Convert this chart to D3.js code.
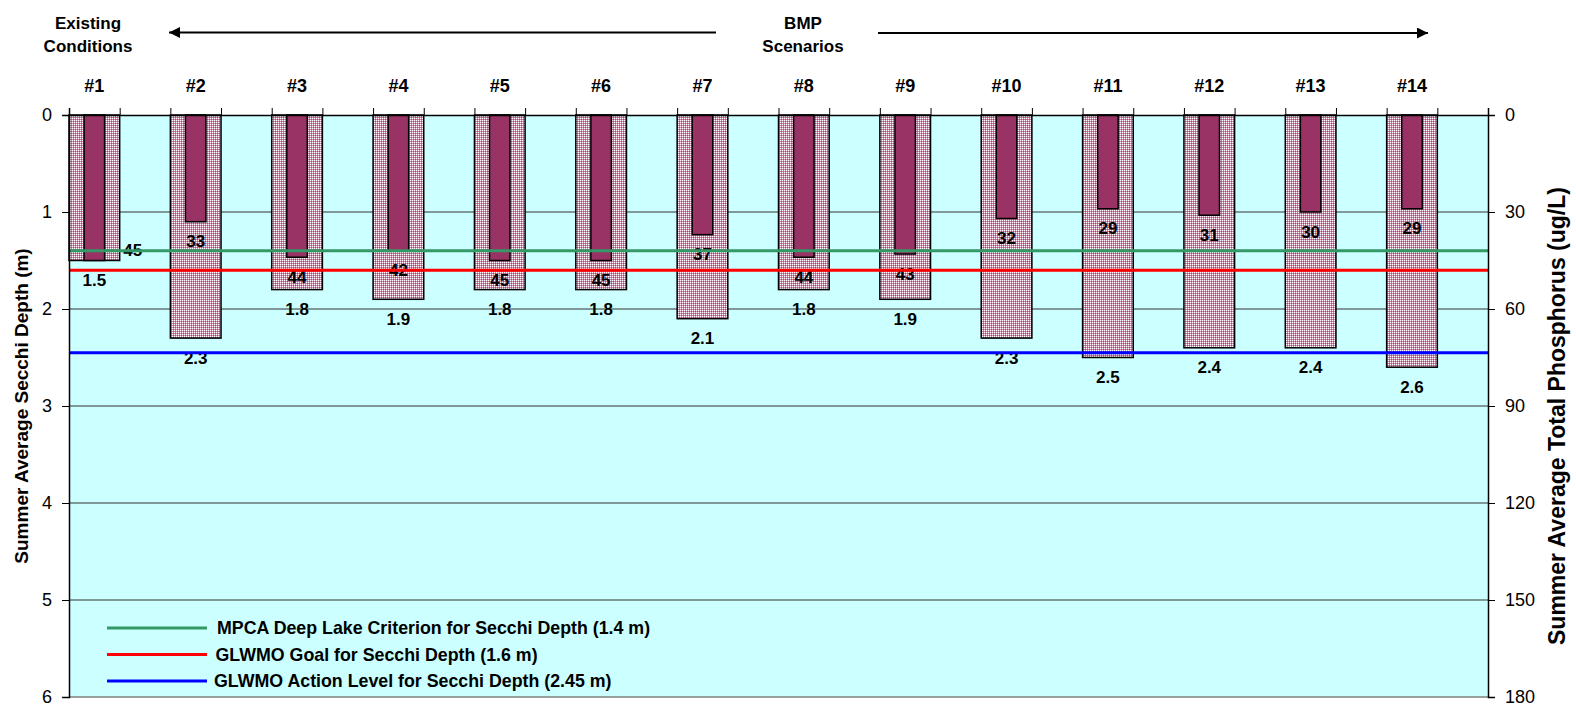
<!DOCTYPE html>
<html>
<head>
<meta charset="utf-8">
<script src="https://cdn.jsdelivr.net/npm/d3@7"></script>
<style>
  html, body { margin: 0; padding: 0; background: #ffffff; }
  svg { display: block; font-family: "Liberation Sans", Arial, sans-serif; }
</style>
</head>
<body>
<svg id="chart" width="1576" height="706"></svg>
<script>
// Scenario results: summer Secchi depth (m) and total phosphorus (ug/L)
const scenarios = ["#1", "#2", "#3", "#4", "#5", "#6", "#7", "#8", "#9", "#10", "#11", "#12", "#13", "#14"];
const secchiDepth = [1.5, 2.3, 1.8, 1.9, 1.8, 1.8, 2.1, 1.8, 1.9, 2.3, 2.5, 2.4, 2.4, 2.6];
const totalPhosphorus = [45, 33, 44, 42, 45, 45, 37, 44, 43, 32, 29, 31, 30, 29];

// Axis ticks
const secchiTicks = [0, 1, 2, 3, 4, 5, 6];
const phosphorusTicks = [0, 30, 60, 90, 120, 150, 180];

// Secchi depth reference levels
const referenceLabels = [
  "MPCA Deep Lake Criterion for Secchi Depth (1.4 m)",
  "GLWMO Goal for Secchi Depth (1.6 m)",
  "GLWMO Action Level for Secchi Depth (2.45 m)"
];
const referenceValues = [1.4, 1.6, 2.45];

// Header texts
const existingLabel = ["Existing", "Conditions"];
const scenarioLabel = ["BMP", "Scenarios"];

// ---- layout & style ----
const plot = { left: 69, right: 1488, top: 115, bottom: 697 };
const referenceColors = ["#339966", "#ff0000", "#0000ff"];
const plum = "#993366";

const svg = d3.select("#chart");

const defs = svg.append("defs");
const pat = defs.append("pattern")
  .attr("id", "dots").attr("width", 2).attr("height", 2)
  .attr("patternUnits", "userSpaceOnUse");
pat.append("rect").attr("width", 2).attr("height", 2).attr("fill", "#cd8aad");
pat.append("rect").attr("x", 0).attr("y", 0).attr("width", 1).attr("height", 1).attr("fill", "#ffffff");
pat.append("rect").attr("x", 1).attr("y", 1).attr("width", 1).attr("height", 1).attr("fill", "#a34d79");

defs.append("marker").attr("id", "arrowEnd")
  .attr("viewBox", "0 0 10 10").attr("refX", 10).attr("refY", 5)
  .attr("markerWidth", 13).attr("markerHeight", 11).attr("markerUnits", "userSpaceOnUse")
  .attr("orient", "auto")
  .append("path").attr("d", "M0,0 L10,5 L0,10 Z").attr("fill", "#000");

// Scales
const x = d3.scaleBand().domain(scenarios).range([plot.left, plot.right]).padding(0);
const ySecchi = d3.scaleLinear().domain([0, 6]).range([plot.top, plot.bottom]);
const yTP = d3.scaleLinear().domain([0, 180]).range([plot.top, plot.bottom]);
const half = x.bandwidth() / 2;
const innerW = 20.5;

// Plot background
svg.append("rect")
  .attr("x", plot.left).attr("y", plot.top)
  .attr("width", plot.right - plot.left).attr("height", plot.bottom - plot.top)
  .attr("fill", "#ccffff");

// Horizontal gridlines
svg.append("g").selectAll("line")
  .data(secchiTicks.filter(t => t > 0 && t < 6))
  .join("line")
  .attr("x1", plot.left).attr("x2", plot.right)
  .attr("y1", d => ySecchi(d)).attr("y2", d => ySecchi(d))
  .attr("stroke", "#333").attr("stroke-width", 1);

// Bottom border of plot area
svg.append("line")
  .attr("x1", plot.left).attr("x2", plot.right)
  .attr("y1", plot.bottom).attr("y2", plot.bottom)
  .attr("stroke", "#808080").attr("stroke-width", 1.5);

// Secchi depth bars (patterned)
svg.append("g").selectAll("rect")
  .data(scenarios)
  .join("rect")
  .attr("x", d => x(d))
  .attr("y", ySecchi(0))
  .attr("width", half)
  .attr("height", (d, i) => ySecchi(secchiDepth[i]) - ySecchi(0))
  .attr("fill", "url(#dots)")
  .attr("stroke", "#000").attr("stroke-width", 1.5);

// Total phosphorus bars
svg.append("g").selectAll("rect")
  .data(scenarios)
  .join("rect")
  .attr("x", d => x(d) + half / 2 - innerW / 2)
  .attr("y", yTP(0))
  .attr("width", innerW)
  .attr("height", (d, i) => yTP(totalPhosphorus[i]) - yTP(0))
  .attr("fill", plum)
  .attr("stroke", "#000").attr("stroke-width", 1.5);

// Value labels
const labelG = svg.append("g")
  .attr("font-size", 17).attr("font-weight", "bold").attr("fill", "#000");

scenarios.forEach((d, i) => {
  const cx = x(d) + half / 2;
  const ys = ySecchi(secchiDepth[i]);
  const yt = yTP(totalPhosphorus[i]);
  labelG.append("text")
    .attr("x", cx).attr("y", ys + 20)
    .attr("text-anchor", "middle").attr("dominant-baseline", "central")
    .text(d3.format(".1f")(secchiDepth[i]));
  const clash = Math.abs(ys - yt) < 18;
  labelG.append("text")
    .attr("x", clash ? x(d) + half + 13 : cx)
    .attr("y", clash ? yt - 10 : yt + 20)
    .attr("text-anchor", "middle").attr("dominant-baseline", "central")
    .text(totalPhosphorus[i]);
});

// Reference level lines
svg.append("g").selectAll("line")
  .data(referenceValues)
  .join("line")
  .attr("x1", plot.left).attr("x2", plot.right)
  .attr("y1", d => ySecchi(d)).attr("y2", d => ySecchi(d))
  .attr("stroke", (d, i) => referenceColors[i]).attr("stroke-width", 3);

// Left axis (Secchi depth)
const leftAxis = svg.append("g")
  .attr("transform", `translate(${plot.left},0)`)
  .call(d3.axisLeft(ySecchi).tickValues(secchiTicks).tickSize(7).tickPadding(10).tickFormat(d3.format("d")));
// Right axis (total phosphorus)
const rightAxis = svg.append("g")
  .attr("transform", `translate(${plot.right},0)`)
  .call(d3.axisRight(yTP).tickValues(phosphorusTicks).tickSize(7).tickPadding(10).tickFormat(d3.format("d")));
[leftAxis, rightAxis].forEach(g => {
  g.select(".domain").attr("stroke", "#000").attr("stroke-width", 1.5);
  g.selectAll(".tick line").attr("stroke", "#000");
  g.selectAll(".tick text").attr("font-size", 18).attr("fill", "#000")
    .attr("font-family", "'Liberation Sans', Arial, sans-serif");
});

// Top axis with tick marks at every half category
const halfScale = d3.scaleLinear().domain([0, scenarios.length * 2]).range([plot.left, plot.right]);
const topAxis = svg.append("g")
  .attr("transform", `translate(0,${plot.top})`)
  .call(d3.axisTop(halfScale).tickValues(d3.range(scenarios.length * 2 + 1)).tickSize(7).tickFormat(""));
topAxis.select(".domain").attr("stroke", "#000").attr("stroke-width", 1.5);
topAxis.selectAll(".tick line").attr("stroke", "#000");

// Scenario numbers above the plot
svg.append("g").selectAll("text")
  .data(scenarios)
  .join("text")
  .attr("x", d => x(d) + half / 2)
  .attr("y", 86)
  .attr("text-anchor", "middle").attr("dominant-baseline", "central")
  .attr("font-size", 18).attr("font-weight", "bold")
  .text(d => d);

// Header: existing conditions vs BMP scenarios
function twoLine(lines, cx) {
  const t = svg.append("text")
    .attr("text-anchor", "middle").attr("font-size", 17).attr("font-weight", "bold");
  lines.forEach((s, k) => {
    t.append("tspan").attr("x", cx).attr("y", 29 + k * 23).text(s);
  });
}
twoLine(existingLabel, 88);
twoLine(scenarioLabel, 803);

svg.append("line")
  .attr("x1", 716).attr("y1", 32.5).attr("x2", 169).attr("y2", 32.5)
  .attr("stroke", "#000").attr("stroke-width", 2).attr("marker-end", "url(#arrowEnd)");
svg.append("line")
  .attr("x1", 878).attr("y1", 33).attr("x2", 1428).attr("y2", 33)
  .attr("stroke", "#000").attr("stroke-width", 2).attr("marker-end", "url(#arrowEnd)");

// Axis titles
svg.append("text")
  .attr("transform", `translate(21,${(plot.top + plot.bottom) / 2}) rotate(-90)`)
  .attr("text-anchor", "middle").attr("dominant-baseline", "central")
  .attr("font-size", 19).attr("font-weight", "bold")
  .text("Summer Average Secchi Depth (m)");
svg.append("text")
  .attr("transform", `translate(1557,${(plot.top + plot.bottom) / 2 + 10}) rotate(-90)`)
  .attr("text-anchor", "middle").attr("dominant-baseline", "central")
  .attr("font-size", 23).attr("font-weight", "bold")
  .text("Summer Average Total Phosphorus (ug/L)");

// Legend
const legend = svg.append("g");
referenceLabels.forEach((lab, i) => {
  const ly = 628 + i * 26.5;
  legend.append("line")
    .attr("x1", 107).attr("x2", 207).attr("y1", ly).attr("y2", ly)
    .attr("stroke", referenceColors[i]).attr("stroke-width", 3);
  legend.append("text")
    .attr("x", 217 - i * 1.5).attr("y", ly)
    .attr("dominant-baseline", "central")
    .attr("font-size", 17.8).attr("font-weight", "bold")
    .text(lab);
});
</script>
</body>
</html>
